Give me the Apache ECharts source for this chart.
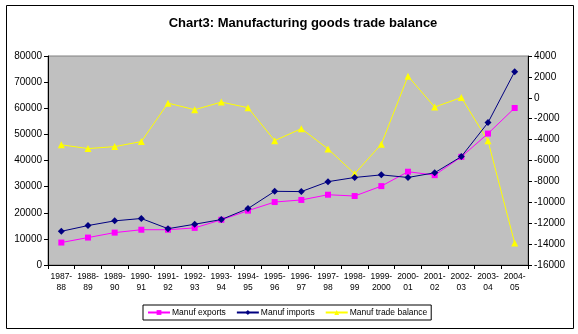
<!DOCTYPE html>
<html>
<head>
<meta charset="utf-8">
<script src="https://cdn.jsdelivr.net/npm/echarts@6/dist/echarts.min.js"></script>
<style>
html,body{margin:0;padding:0;background:#fff;}
#c{width:578px;height:334px;}
</style>
</head>
<body>
<div id="c"></div>
<script>
const categories = ["1987-\n88","1988-\n89","1989-\n90","1990-\n91","1991-\n92","1992-\n93","1993-\n94","1994-\n95","1995-\n96","1996-\n97","1997-\n98","1998-\n99","1999-\n2000","2000-\n01","2001-\n02","2002-\n03","2003-\n04","2004-\n05"];
const exportsVals = [8600,10500,12400,13500,13500,14200,17300,20800,24100,24900,26900,26400,30200,35700,34400,41400,50300,60100];
const importsVals = [12900,15100,16900,17800,13900,15600,17400,21600,28200,28100,31900,33500,34500,33500,35300,41500,54500,74000];
const balanceVals = [-4500,-4860,-4670,-4190,-510,-1140,-410,-950,-4100,-2950,-4890,-7270,-4440,2070,-890,30,-4120,-13900];
const leftTicks = {min:0, max:80000, interval:10000};
const rightTicks = {min:-16000, max:4000, interval:2000};

const FONT = '"Liberation Sans", Arial, sans-serif';
const chart = echarts.init(document.getElementById('c'), null, {renderer:'canvas'});
const axisTxt = {color:'#000', fontFamily:FONT, fontSize:10};
const plain = v => String(v);
chart.setOption({
  animation:false,
  backgroundColor:'#fff',
  textStyle:{fontFamily:FONT},
  graphic:[{type:'rect', shape:{x:6.5,y:5.5,width:567,height:323}, style:{fill:'none', stroke:'#000', lineWidth:1}, silent:true, z:-1}],
  title:{text:'Chart3: Manufacturing goods trade balance', left:298, top:12, textAlign:'center',
    textStyle:{fontFamily:FONT, fontSize:13, fontWeight:'bold', color:'#000'}},
  grid:{left:48, right:50, top:56, bottom:69, show:true, backgroundColor:'#C0C0C0', borderColor:'#808080', borderWidth:1},
  legend:{top:305, left:143, itemWidth:22, itemHeight:6, itemGap:10, padding:[3,4,3,4],
    borderColor:'#000', borderWidth:1, borderRadius:0,
    textStyle:{fontFamily:FONT, fontSize:8.5, color:'#000', padding:[0,0,0,-3]},
    data:['Manuf exports','Manuf imports','Manuf trade balance']},
  xAxis:{type:'category', data:categories, boundaryGap:true,
    axisLine:{lineStyle:{color:'#000'}}, axisTick:{show:true, length:4, inside:false, lineStyle:{color:'#000'}},
    axisLabel:{margin:6, interval:0, lineHeight:11, color:'#000', fontFamily:FONT, fontSize:8.5}, splitLine:{show:false}},
  yAxis:[
    {type:'value', min:leftTicks.min, max:leftTicks.max, interval:leftTicks.interval,
      axisLine:{show:true, lineStyle:{color:'#000'}}, axisTick:{show:true, length:4, lineStyle:{color:'#000'}},
      axisLabel:Object.assign({margin:6, formatter:plain}, axisTxt), splitLine:{show:false}},
    {type:'value', position:'right', min:rightTicks.min, max:rightTicks.max, interval:rightTicks.interval,
      axisLine:{show:true, lineStyle:{color:'#000'}}, axisTick:{show:true, length:4, lineStyle:{color:'#000'}},
      axisLabel:Object.assign({margin:6, formatter:plain}, axisTxt), splitLine:{show:false}}
  ],
  series:[
    {name:'Manuf exports', type:'line', data:exportsVals, yAxisIndex:0, symbol:'rect', symbolSize:6,
      lineStyle:{color:'#FF00FF', width:1}, itemStyle:{color:'#FF00FF'}, z:3},
    {name:'Manuf imports', type:'line', data:importsVals, yAxisIndex:0, symbol:'diamond', symbolSize:7,
      lineStyle:{color:'#000080', width:1}, itemStyle:{color:'#000080'}, z:4},
    {name:'Manuf trade balance', type:'line', data:balanceVals, yAxisIndex:1, symbol:'triangle', symbolSize:7,
      lineStyle:{color:'#FFFF00', width:1}, itemStyle:{color:'#FFFF00'}, z:2}
  ]
});
</script>
</body>
</html>
